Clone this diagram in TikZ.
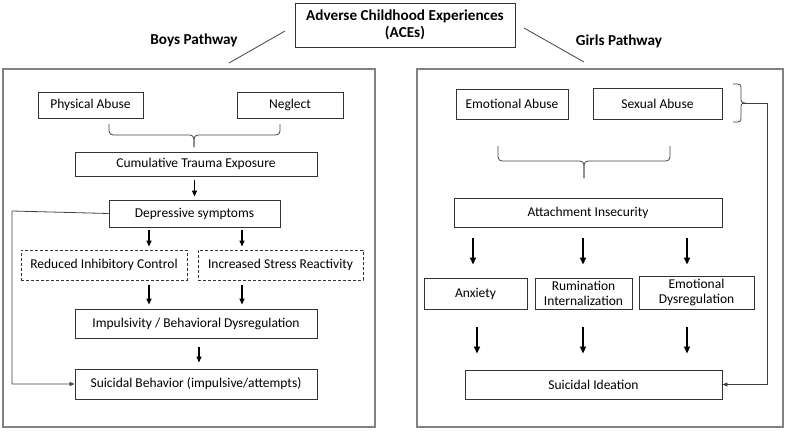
\documentclass[tikz,border=0pt]{standalone}
\usepackage{fontspec}
\setmainfont{Carlito}
\usetikzlibrary{arrows.meta}
\begin{document}
\begin{tikzpicture}[x=1pt,y=-1pt,
  box/.style={draw=black!80, line width=0.9pt, inner sep=0pt, align=center, font=\fontsize{13.5}{15}\selectfont},
  dbox/.style={box, dashed, dash pattern=on 3pt off 2pt},
  panel/.style={draw=black!50, line width=1.1pt},
  title/.style={font=\bfseries\fontsize{15.2}{17}\selectfont},
  arr/.style={-{Triangle[length=6pt,width=5pt]}, line width=1.4pt},
  barr/.style={-{Triangle[length=7pt,width=6pt]}, line width=1.8pt},
  thin/.style={draw=black!75, line width=0.8pt},
]
\useasboundingbox (0,0) rectangle (794,434);

% top node and headings
\node[box, title, minimum width=220pt, minimum height=44pt] (ace) at (405,25) {Adverse Childhood Experiences\\(ACEs)};
\node[title] (boys) at (194,40) {Boys Pathway};
\node[title] (girls) at (619,41) {Girls Pathway};

% panels
\draw[panel] (3,69) rectangle (375,427);
\draw[panel] (417,69) rectangle (783,427);

% links from the top node to the panels
\coordinate (bl1) at (285,31); \coordinate (bl2) at (229,63);
\coordinate (gl1) at (524,28); \coordinate (gl2) at (584,62);
\draw[thin] (bl1) -- (bl2);
\draw[thin] (gl1) -- (gl2);

% ---------- boys ----------
\node[box, minimum width=105pt, minimum height=26pt] (pa) at (90.5,105) {Physical Abuse};
\node[box, minimum width=106pt, minimum height=26pt] (ng) at (290,105) {Neglect};
\node[box, minimum width=242pt, minimum height=24pt] (cte) at (196,164) {Cumulative Trauma Exposure};
\node[box, minimum width=171pt, minimum height=27pt] (dep) at (194.5,213.5) {Depressive symptoms};
\node[dbox, minimum width=166pt, minimum height=30pt] (ric) at (104,265) {Reduced Inhibitory Control};
\node[dbox, minimum width=165pt, minimum height=30pt] (isr) at (280.5,265) {Increased Stress Reactivity};
\node[box, minimum width=242pt, minimum height=29pt] (imp) at (196,323.5) {Impulsivity / Behavioral Dysregulation};
\node[box, minimum width=242pt, minimum height=30pt] (sb) at (196,384) {Suicidal Behavior (impulsive/attempts)};

% brace under the two exposures
\coordinate (bt) at (194,147);
\draw[thin, rounded corners=4pt] (109,124) -- (109,135) -- (bt |- 0,135) -- (bt);
\draw[thin, rounded corners=4pt] (280,124) -- (280,135) -- (bt |- 0,135) -- (bt);

\coordinate (xa) at (149,0);
\coordinate (xb) at (242,0);
\coordinate (xc) at (199,0);
\draw[arr, shorten <=4pt, shorten >=3pt] (cte.south -| dep) -- (dep.north);
\draw[arr, shorten <=3pt, shorten >=3pt] (dep.south -| xa) -- (ric.north -| xa);
\draw[arr, shorten <=3pt, shorten >=3pt] (dep.south -| xb) -- (isr.north -| xb);
\draw[arr, shorten <=5pt, shorten >=4pt] (ric.south -| xa) -- (imp.north -| xa);
\draw[arr, shorten <=5pt, shorten >=4pt] (isr.south -| xb) -- (imp.north -| xb);
\draw[arr, shorten <=9pt, shorten >=6pt] (imp.south -| xc) -- (sb.north -| xc);

% direct path from depression to suicidal behaviour
\draw[thin, -{Triangle[length=5pt,width=4pt]}] (dep.west) -- (12,211) |- (sb.west);

% ---------- girls ----------
\node[box, minimum width=112pt, minimum height=30pt] (ea) at (512,104) {Emotional Abuse};
\node[box, minimum width=129pt, minimum height=31pt] (sa) at (657.5,103.5) {Sexual Abuse};
\node[box, minimum width=268pt, minimum height=29pt] (ai) at (588,212.5) {Attachment Insecurity};
\node[box, minimum width=103pt, minimum height=31pt] (anx) at (475.5,293.5) {Anxiety};
\node[box, minimum width=97pt, minimum height=31pt] (rum) at (583.5,293.5) {Rumination\\Internalization};
\node[box, minimum width=115pt, minimum height=33pt] (ed) at (696.5,292.5) {Emotional\\Dysregulation};
\node[box, minimum width=257pt, minimum height=29pt] (si) at (593.5,384.5) {Suicidal Ideation};

% brace under the two exposures
\coordinate (gt) at (584,178);
\draw[thin, rounded corners=4pt] (498,146) -- (498,161) -- (gt |- 0,161) -- (gt);
\draw[thin, rounded corners=4pt] (670,146) -- (670,161) -- (gt |- 0,161) -- (gt);

% side bracket and direct path to suicidal ideation
\coordinate (rt) at (743,103);
\draw[thin, rounded corners=3pt] (733,84) -- (741,84) -- (741,103) -- (rt);
\draw[thin, rounded corners=3pt] (733,122) -- (741,122) -- (741,103) -- (rt);
\draw[thin, -{Triangle[length=5pt,width=4pt]}] (rt) -- (767,103) |- (si.east);

\coordinate (ya) at (473,0);
\coordinate (yb) at (583,0);
\coordinate (yc) at (687,0);
\coordinate (yd) at (477,0);
\draw[barr, shorten <=11pt, shorten >=13pt] (ai.south -| ya) -- (anx.north -| ya);
\draw[barr, shorten <=11pt, shorten >=13pt] (ai.south -| yb) -- (rum.north -| yb);
\draw[barr, shorten <=11pt, shorten >=11pt] (ai.south -| yc) -- (ed.north -| yc);
\draw[barr, shorten <=18pt, shorten >=16pt] (anx.south -| yd) -- (si.north -| yd);
\draw[barr, shorten <=18pt, shorten >=16pt] (rum.south -| yb) -- (si.north -| yb);
\draw[barr, shorten <=18pt, shorten >=16pt] (ed.south -| yc) -- (si.north -| yc);
\end{tikzpicture}
\end{document}
